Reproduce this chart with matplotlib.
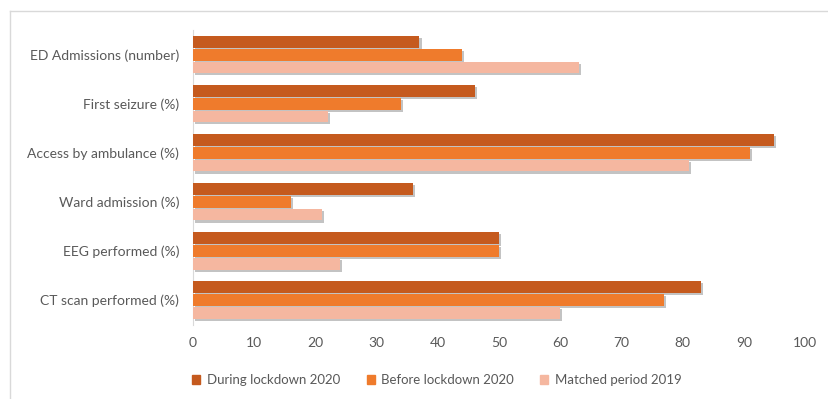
import matplotlib
matplotlib.use("Agg")
import matplotlib.pyplot as plt
import matplotlib.patheffects as pe
import numpy as np
from matplotlib.lines import Line2D

categories = ["ED Admissions (number)", "First seizure (%)", "Access by ambulance (%)",
              "Ward admission (%)", "EEG performed (%)", "CT scan performed (%)"]
series_names = ["During lockdown 2020", "Before lockdown 2020", "Matched period 2019"]
during_2020 = [37, 46, 95, 36, 50, 83]
before_2020 = [44, 34, 91, 16, 50, 77]
matched_2019 = [63, 22, 81, 21, 24, 60]
xticks = [0, 10, 20, 30, 40, 50, 60, 70, 80, 90, 100]

colors = ["#C55A1E", "#EF7B2C", "#F5B7A0"]
text_color = "#595959"

plt.rcParams['font.family'] = ['Lato', 'DejaVu Sans']

W, H = 829, 399
fig = plt.figure(figsize=(W / 100, H / 100), dpi=100)
ax = fig.add_axes([193 / W, 1 - 324.5 / H, (805 - 193) / W, (324.5 - 30.2) / H])

y = np.arange(len(categories))
bh = 0.26
shadow = [pe.SimplePatchShadow(offset=(1.5, -1.5), shadow_rgbFace="#555555", alpha=0.35), pe.Normal()]
for i, (vals, c, name) in enumerate(zip([during_2020, before_2020, matched_2019], colors, series_names)):
    bars = ax.barh(y + (i - 1) * bh, vals, height=bh * 0.92, color=c, label=name, zorder=3)
    for b in bars:
        b.set_path_effects(shadow)

ax.set_ylim(len(categories) - 0.5, -0.5)
ax.set_xlim(0, 100)
ax.set_xticks(xticks)
ax.set_yticks(y)
ax.set_yticklabels(categories)
ax.tick_params(axis='both', length=0, colors=text_color, labelsize=10)
ax.tick_params(axis='x', pad=9)
ax.tick_params(axis='y', pad=10)
for s in ["top", "right", "bottom"]:
    ax.spines[s].set_visible(False)
ax.spines["left"].set_color("#D9D9D9")

handles = [plt.Rectangle((0, 0), 1, 1, color=c) for c in colors]
fig.legend(handles, series_names, loc="center", bbox_to_anchor=(437 / W, 1 - 380 / H),
           ncol=3, frameon=False, fontsize=9.5, labelcolor=text_color,
           handlelength=0.6, handleheight=0.6, handletextpad=0.5, columnspacing=2.0)

# outer frame (left and top edges visible)
fig.add_artist(Line2D([10 / W, 10 / W], [0, 1 - 11 / H], transform=fig.transFigure, color="#D9D9D9", lw=1))
fig.add_artist(Line2D([10 / W, 1], [1 - 11 / H, 1 - 11 / H], transform=fig.transFigure, color="#D9D9D9", lw=1))

fig.savefig("out.png", dpi=100)
